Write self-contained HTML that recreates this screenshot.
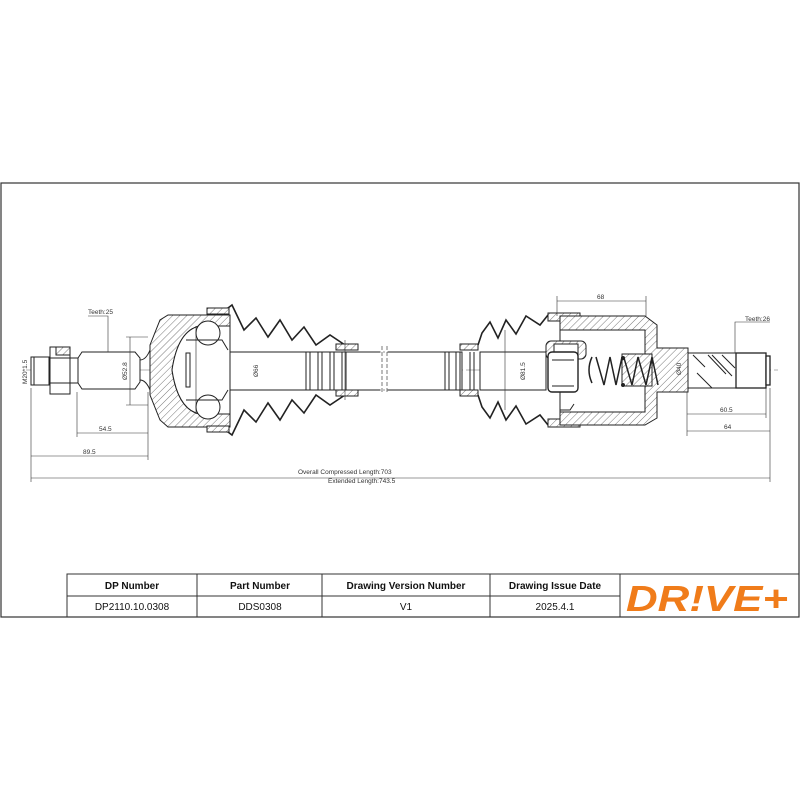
<!DOCTYPE html>
<html><head><meta charset="utf-8"><style>
html,body{margin:0;padding:0;background:#fff}
svg{display:block}
text{font-family:"Liberation Sans",sans-serif}
</style></head><body>
<svg width="800" height="800" viewBox="0 0 800 800" xmlns="http://www.w3.org/2000/svg">
<defs>
<pattern id="h" width="5" height="5" patternUnits="userSpaceOnUse" patternTransform="rotate(45)">
<rect width="5" height="5" fill="#fff"/><line x1="0" y1="0" x2="0" y2="5" stroke="#555" stroke-width="0.8"/>
</pattern>
</defs>
<!-- frame -->
<rect x="1" y="183" width="798" height="434" fill="none" stroke="#333" stroke-width="1.2"/>

<g stroke="#222" stroke-width="1" fill="none">
<!-- centerline -->
<line x1="26" y1="370" x2="778" y2="370" stroke="#666" stroke-width="0.6" stroke-dasharray="14,3,2,3"/>

<!-- left thread -->
<rect x="31" y="357" width="18" height="28" fill="#fff"/>
<line x1="34" y1="357" x2="34" y2="385"/>
<!-- nut -->
<path d="M50 347 H70 V394 H50 Z" fill="#fff"/>
<rect x="56" y="347" width="14" height="8" fill="url(#h)"/>
<line x1="50" y1="358" x2="70" y2="358"/><line x1="50" y1="383" x2="70" y2="383"/>
<rect x="70" y="358" width="8" height="25" fill="#fff"/>
<!-- spline -->
<path d="M78 358 L82 352 H135 L140 358 V382 L135 389 H82 L78 383 Z" fill="#fff"/>
<path d="M140 360 Q146 360 150 350 M140 380 Q146 380 150 390"/>

<!-- left bell housing -->
<path d="M150 345 L160 320 L168 315 H230 V326 H200 Q178 330 172 370 Q178 410 200 414 H230 V427 H168 L160 420 L150 395 Z" fill="url(#h)"/>
<path d="M172 370 Q178 330 200 326 H230 V414 H200 Q178 410 172 370 Z" fill="#fff"/>
<circle cx="208" cy="333" r="12" fill="#fff"/>
<circle cx="208" cy="407" r="12" fill="#fff"/>
<path d="M186 340 L222 340 L228 350 M186 400 L222 400 L228 390" />
<rect x="186" y="353" width="4" height="34" fill="#fff"/>
<line x1="196" y1="326" x2="196" y2="414" stroke-width="0.6"/>
<!-- boot left -->
<path d="M207 312 L228 308 L232 305 L244 330 L256 318 L268 337 L280 320 L292 340 L304 327 L316 345 L330 335 L345 345 H358" stroke-width="1.6"/>
<path d="M207 428 L228 432 L232 435 L244 410 L256 422 L268 403 L280 420 L292 400 L304 413 L316 395 L330 405 L345 395 H358" stroke-width="1.6"/>
<rect x="207" y="308" width="22" height="6" fill="url(#h)"/>
<rect x="207" y="426" width="22" height="6" fill="url(#h)"/>
<rect x="336" y="344" width="22" height="6" fill="url(#h)"/>
<rect x="336" y="390" width="22" height="6" fill="url(#h)"/>

<!-- shaft -->
<rect x="230" y="352" width="232" height="38" fill="#fff"/>
<path d="M306 352 V390 M310 352 V390 M318 352 V390 M322 352 V390 M330 352 V390 M334 352 V390 M342 352 V390 M346 352 V390"/>
<path d="M445 352 V390 M449 352 V390 M456 352 V390 M460 352 V390 M470 352 V390 M474 352 V390 M480 352 V390"/>
<path d="M382 346 V394 M386 346 V394" stroke="#fff" stroke-width="3"/>
<path d="M382 346 V394 M387 346 V394" stroke-width="0.6" stroke-dasharray="4,2"/>
<rect x="480" y="352" width="66" height="38" fill="#fff"/>

<!-- right boot -->
<rect x="460" y="344" width="18" height="6" fill="url(#h)"/>
<rect x="460" y="390" width="18" height="6" fill="url(#h)"/>
<path d="M478 345 L482 333 L490 322 L498 338 L506 320 L516 334 L526 316 L540 325 L548 315" stroke-width="1.6"/>
<path d="M478 395 L482 407 L490 418 L498 402 L506 420 L516 406 L526 424 L540 415 L548 425" stroke-width="1.6"/>
<rect x="548" y="313" width="32" height="8" fill="url(#h)"/>
<rect x="548" y="419" width="32" height="8" fill="url(#h)"/>

<!-- right housing -->
<path d="M560 316 H645 L657 325 V348 H688 V392 H657 V418 L645 425 H560 V412 H645 V330 H560 Z" fill="url(#h)"/>
<rect x="560" y="330" width="85" height="82" fill="#fff"/>
<rect x="622" y="354" width="30" height="32" fill="url(#h)"/>
<rect x="546" y="341" width="40" height="18" rx="5" fill="url(#h)"/>
<rect x="554" y="344" width="24" height="12" fill="#fff"/>
<rect x="548" y="352" width="30" height="40" rx="4" fill="#fff" stroke-width="1.4"/>
<path d="M552 360 H574 M552 386 H574"/>
<path d="M560 392 V410 H570 L574 404"/>
<!-- spring -->
<path d="M592 357 Q586 370 592 383" stroke-width="1.5"/>
<path d="M596 357 L604 385 L610 357 L616 385 L622 357 M624 358 L632 385 L638 357 L646 385 L652 357 L658 385" stroke-width="1.5"/>
<circle cx="623" cy="358" r="1.5" fill="#222"/><circle cx="623" cy="385" r="1.5" fill="#222"/>

<!-- right spline -->
<rect x="688" y="353" width="48" height="35" fill="#fff"/>
<path d="M693 355 L705 367 M697 373 L712 388 M708 355 L726 374 M712 355 L732 376 M722 355 L735 368"/>
<rect x="736" y="353" width="30" height="35" fill="#fff" stroke-width="1.3"/>
<rect x="766" y="356" width="4" height="29" fill="#fff" stroke-width="1.3"/>

<!-- dimension lines -->
<g stroke-width="0.6" stroke="#333">
<path d="M108 352 V316 H88"/>
<path d="M130 337 V405 M126 337 H148 M126 405 H148"/>
<path d="M77 392 V437 M148 392 V460 M77 433 H148"/>
<path d="M31 388 V482 M31 456 H148"/>
<path d="M31 478 H770 M770 388 V482"/>
<path d="M557 296 V316 M646 296 V316 M557 301 H646"/>
<path d="M735 353 V322 H770"/>
<path d="M687 392 V436 M766 388 V418 M687 414 H766 M687 431 H770"/>
<path d="M345 340 V400 M505 330 V410"/>
</g>
</g>

<g font-size="6.5" fill="#333">
<text x="88" y="314">Teeth:25</text>
<text x="745" y="321">Teeth:26</text>
<text x="99" y="431">54.5</text>
<text x="83" y="454">89.5</text>
<text x="597" y="299">68</text>
<text x="720" y="412">60.5</text>
<text x="724" y="429">64</text>
<text x="298" y="474">Overall  Compressed  Length:703</text>
<text x="328" y="483">Extended  Length:743.5</text>
<text transform="translate(27,384) rotate(-90)">M20*1.5</text>
<text transform="translate(127,380) rotate(-90)">Ø52.8</text>
<text transform="translate(258,377) rotate(-90)">Ø66</text>
<text transform="translate(525,380) rotate(-90)">Ø81.5</text>
<text transform="translate(681,375) rotate(-90)">Ø40</text>
</g>

<!-- table -->
<g stroke="#333" stroke-width="1" fill="none">
<rect x="67" y="574" width="732" height="43"/>
<line x1="67" y1="596" x2="620" y2="596"/>
<line x1="197" y1="574" x2="197" y2="617"/>
<line x1="322" y1="574" x2="322" y2="617"/>
<line x1="490" y1="574" x2="490" y2="617"/>
<line x1="620" y1="574" x2="620" y2="617"/>
</g>
<g font-size="10" fill="#111" text-anchor="middle">
<text x="132" y="589" font-weight="bold">DP Number</text>
<text x="260" y="589" font-weight="bold">Part Number</text>
<text x="406" y="589" font-weight="bold">Drawing Version Number</text>
<text x="555" y="589" font-weight="bold">Drawing Issue Date</text>
<text x="132" y="610">DP2110.10.0308</text>
<text x="260" y="610">DDS0308</text>
<text x="406" y="610">V1</text>
<text x="555" y="610">2025.4.1</text>
</g>
<text x="707" y="611" text-anchor="middle" font-size="36" font-weight="bold" font-style="italic" fill="#f07c1a" textLength="162" lengthAdjust="spacingAndGlyphs">DR!VE+</text>
</svg>
</body></html>
